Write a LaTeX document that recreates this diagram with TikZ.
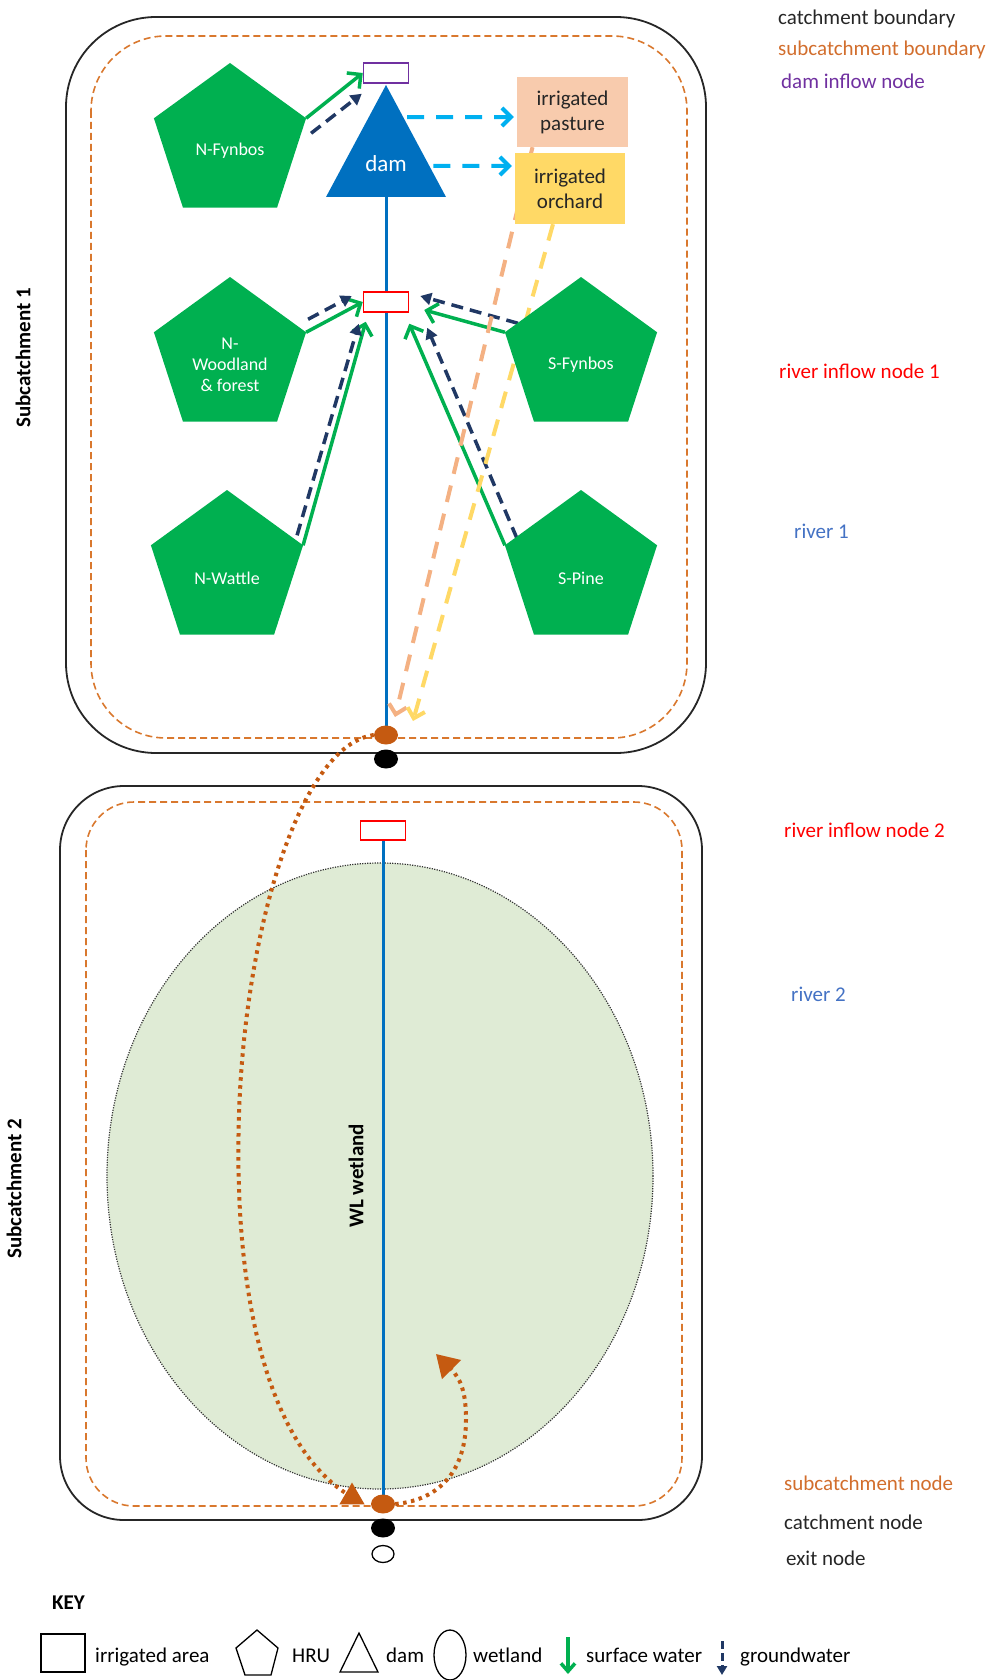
\documentclass[tikz,border=0pt]{standalone}
\usepackage{fontspec}
\setmainfont{Carlito}
\usetikzlibrary{arrows.meta,shapes.geometric,calc}
\definecolor{hrugreen}{HTML}{00B050}
\definecolor{damblue}{HTML}{0070C0}
\definecolor{gwnavy}{HTML}{203864}
\definecolor{irrcyan}{HTML}{00B0F0}
\definecolor{nodeorange}{HTML}{C55A11}
\definecolor{subbound}{HTML}{D9782E}
\definecolor{pastfill}{HTML}{F8CBAD}
\definecolor{orchfill}{HTML}{FFD966}
\definecolor{pastline}{HTML}{F4B183}
\definecolor{orchline}{HTML}{FFD966}
\definecolor{dampurple}{HTML}{7030A0}
\definecolor{wetfill}{HTML}{DFEBD5}
\definecolor{riverlabel}{HTML}{4472C4}
\definecolor{labelorange}{HTML}{D26E2D}
\pgfdeclarelayer{back}
\pgfdeclarelayer{mid}
\pgfsetlayers{back,mid,main}
\newcommand\txtsize{\fontsize{21}{25}\selectfont}
\newcommand\hrusize{\fontsize{18}{21}\selectfont}
\tikzset{
  catchline/.style={draw=black!85, line width=1.8pt, rounded corners=#1},
  subline/.style={draw=subbound, line width=1.6pt, dash pattern=on 7pt off 4pt, rounded corners=#1},
  hru/.style={regular polygon, regular polygon sides=5, fill=hrugreen, minimum size=160pt, inner sep=0pt, outer sep=0pt},
  hrulabel/.style={text=white, font=\hrusize, align=center, yshift=-8pt},
  nodebox/.style={rectangle, fill=white, line width=1.5pt, minimum width=45pt, minimum height=20pt, inner sep=0pt},
  irrbox/.style={rectangle, minimum width=111pt, minimum height=70pt, inner sep=0pt, align=center, font=\txtsize, text=black!85},
  river/.style={draw=damblue, line width=3pt},
  surf/.style={draw=hrugreen, line width=3.5pt, -{Straight Barb[length=10pt,width=20pt]}},
  gw/.style={draw=gwnavy, line width=3.5pt, dash pattern=on 12pt off 7pt, -{Triangle[length=11pt,width=12pt]}},
  irr/.style={line width=4pt, dash pattern=on 17pt off 12pt, -{Straight Barb[length=9pt,width=18pt]}},
  flow/.style={draw=nodeorange, line width=4pt, dash pattern=on 3.5pt off 4.5pt},
  cnode/.style={ellipse, minimum width=24pt, minimum height=19pt, inner sep=0pt},
  sidelabel/.style={anchor=base west, font=\txtsize, inner sep=0pt},
  keyline/.style={draw=black, line width=1.3pt},
}
\begin{document}
\begin{tikzpicture}[x=1pt,y=-1pt]
\useasboundingbox (0,0) rectangle (995,1680);

% catchment and subcatchment boundaries, wetland
\begin{pgfonlayer}{back}
  \draw[catchline=90] (66,17) rectangle (706,753);
  \draw[subline=75] (91,36) rectangle (687,738);
  \draw[catchline=64] (60,786) rectangle (702,1520);
  \draw[subline=48] (86,802) rectangle (682,1506);
  \node[ellipse, fill=wetfill, draw=black!80, line width=1.2pt, dash pattern=on 1.2pt off 1.3pt,
        minimum width=546pt, minimum height=626pt, inner sep=0pt] (wet) at (380,1176) {};
\end{pgfonlayer}

\node[rotate=90, font=\txtsize\bfseries] (sc1) at (23,358) {Subcatchment 1};
\node[rotate=90, font=\txtsize\bfseries] (sc2) at (14,1189) {Subcatchment 2};
\node[rotate=90, font=\txtsize\bfseries] (wl) at (356,1176) {WL wetland};

% dam
\coordinate (damtop) at (386,85);
\coordinate (damr) at (446,197);
\coordinate (daml) at (326,197);
\coordinate (dambase) at (386,197);
\fill[damblue] (damtop) -- (damr) -- (daml) -- cycle;
\node[text=white, font=\fontsize{23}{27}\selectfont] (dam) at (386,164) {dam};

% HRUs
\node[hru, label={[hrulabel]center:N-Fynbos}] (nf) at (230,143) {};
\node[hru, label={[hrulabel]center:{N-\\Woodland\\\& forest}}] (nw) at (230,357) {};
\node[hru, label={[hrulabel]center:N-Wattle}] (nwa) at (227,570) {};
\node[hru, label={[hrulabel]center:S-Fynbos}] (sf) at (581,357) {};
\node[hru, label={[hrulabel]center:S-Pine}] (sp) at (581,570) {};

% inflow nodes and irrigated areas
\node[nodebox, draw=dampurple] (dinf) at (386,73) {};
\node[nodebox, draw=red] (rin1) at (386,302) {};
\node[nodebox, draw=red, minimum height=19pt] (rin2) at (383,830.5) {};
\node[irrbox, fill=pastfill] (past) at (572.5,112) {irrigated\\pasture};
\node[irrbox, fill=orchfill, minimum width=110pt, minimum height=71pt] (orch) at (570,188.5) {irrigated\\orchard};

% subcatchment, catchment and exit nodes
\node[cnode, fill=nodeorange] (s1) at (386,735) {};
\node[cnode, fill=black] (c1) at (386,759) {};
\node[cnode, fill=nodeorange] (s2) at (383,1504) {};
\node[cnode, fill=black] (c2) at (383,1528) {};
\node[cnode, draw=black, fill=white, line width=1.3pt, minimum width=22pt, minimum height=17pt] (exit) at (383,1554) {};
\node[regular polygon, regular polygon sides=3, fill=nodeorange, minimum size=29pt, inner sep=0pt] (tri) at (352,1497) {};
\coordinate (wetin) at (436,1354);

% flows
\begin{pgfonlayer}{mid}
  \draw[river] (dambase) -- (s1.center);
  \draw[river] (rin2.south) -- (s2.center);
  % surface water
  \draw[surf] (nf.corner 5) -- (dinf.west);
  \draw[surf] (nw.corner 5) -- (rin1.west);
  \draw[surf] (nwa.corner 5) -- ([shift={(3,9)}]rin1.south west);
  \draw[surf] (sf.corner 2) -- ([shift={(15,8)}]rin1.east);
  \draw[surf] (sp.corner 2) -- ([shift={(0,11)}]rin1.south east);
  % groundwater
  \draw[gw] ([shift={(5,15)}]nf.corner 5) -- ([shift={(-1,10)}]dinf.south west);
  \draw[gw] ([shift={(2,-13)}]nw.corner 5) -- ([shift={(-11,-6)}]rin1.west);
  \draw[gw] ([shift={(-6,-10)}]nwa.corner 5) -- ([shift={(-4,11)}]rin1.south west);
  \draw[gw] ([shift={(13,-9)}]sf.corner 2) -- ([shift={(11,-6)}]rin1.east);
  \draw[gw] ([shift={(12,-7)}]sp.corner 2) -- ([shift={(18,15)}]rin1.south east);
  % irrigation abstractions and return flows
  \draw[irr, draw=irrcyan] ($(damtop)!0.286!(damr)+(4,0)$) -- ([shift={(-3,5)}]past.west);
  \draw[irr, draw=irrcyan] ($(damtop)!0.723!(damr)+(4,0)$) -- ([shift={(-3,-22.5)}]orch.west);
  \draw[irr, draw=pastline] ([xshift=-40pt]past.south) -- ([shift={(9,-18)}]s1.center);
  \draw[irr, draw=orchline] ([xshift=-17pt]orch.south) -- ([shift={(27,-14)}]s1.center);
  % routing through the wetland
  \draw[flow] (s1.west) .. controls (300,745) and (245,930) .. (239,1114)
              .. controls (233,1300) and (270,1450) .. (tri.center);
  \draw[flow, -{Triangle[length=22pt,width=26pt]}] (s2.east) .. controls (440,1500) and (466,1470) .. (466,1420)
              .. controls (466,1395) and (462,1380) .. (wetin);
\end{pgfonlayer}

% side labels
\node[sidelabel, text=black!85] (lcb) at (778,25) {catchment boundary};
\node[sidelabel, text=labelorange] (lsb) at (778,56) {subcatchment boundary};
\node[sidelabel, text=dampurple] (ldi) at (781,89) {dam inflow node};
\node[sidelabel, text=red] (lri1) at (779,378) {river inflow node 1};
\node[sidelabel, text=riverlabel] (lr1) at (794,538) {river 1};
\node[sidelabel, text=red] (lri2) at (784,837) {river inflow node 2};
\node[sidelabel, text=riverlabel] (lr2) at (791,1001) {river 2};
\node[sidelabel, text=labelorange] (lsn) at (784,1490) {subcatchment node};
\node[sidelabel, text=black!85] (lcn) at (784,1529) {catchment node};
\node[sidelabel, text=black!85] (len) at (786,1565) {exit node};

% key
\node[font=\txtsize\bfseries, anchor=base west, inner sep=0pt] (key) at (52,1609) {KEY};
\node[draw=black, line width=1.3pt, minimum width=44pt, minimum height=38pt, inner sep=0pt] (kbox) at (63,1653) {};
\node[sidelabel] (kt1) at (95,1662) {irrigated area};
\draw[keyline] (257,1630) -- (278,1648) -- (271,1675) -- (245,1675) -- (236,1648) -- cycle;
\node[sidelabel] (kt2) at (292,1662) {HRU};
\draw[keyline] (359,1633) -- (378,1672) -- (340,1672) -- cycle;
\node[sidelabel] (kt3) at (386,1662) {dam};
\draw[keyline] (450,1655) ellipse [x radius=16, y radius=25];
\node[sidelabel] (kt4) at (473,1662) {wetland};
\coordinate (ksw1) at (568,1637);
\coordinate (ksw2) at (568,1674);
\draw[surf, -{Straight Barb[length=8pt,width=14pt]}] (ksw1) -- (ksw2);
\node[sidelabel] (kt5) at (586,1662) {surface water};
\coordinate (kgw1) at (722,1641);
\coordinate (kgw2) at (722,1675);
\draw[gw, line width=3pt, dash pattern=on 8pt off 4pt, -{Triangle[length=9pt,width=10pt]}] (kgw1) -- (kgw2);
\node[sidelabel] (kt6) at (740,1662) {groundwater};
\end{tikzpicture}
\end{document}
